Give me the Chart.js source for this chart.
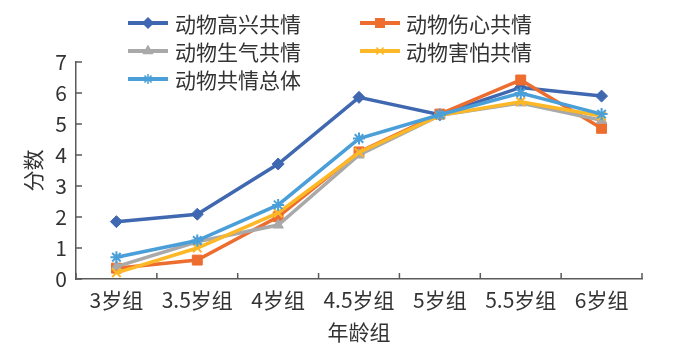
<!DOCTYPE html>
<html>
<head>
<meta charset="utf-8">
<script src="https://cdn.jsdelivr.net/npm/chart.js@4/dist/chart.umd.min.js"></script>
<style>
  html, body { margin: 0; padding: 0; background: #fff; }
  #wrap { width: 700px; height: 349px; }
</style>
</head>
<body>
<div id="wrap"><canvas id="c" width="700" height="349"></canvas></div>
<script>
// age groups along the x axis
var ageGroups = ["3岁组", "3.5岁组", "4岁组", "4.5岁组", "5岁组", "5.5岁组", "6岁组"];

// mean scores per age group
var happyScores = [1.85, 2.09, 3.71, 5.86, 5.30, 6.18, 5.90];
var sadScores   = [0.35, 0.61, 2.01, 4.10, 5.32, 6.42, 4.86];
var angryScores = [0.40, 1.20, 1.74, 4.00, 5.28, 5.68, 5.12];
var fearScores  = [0.20, 1.00, 2.13, 4.08, 5.28, 5.72, 5.26];
var totalScores = [0.70, 1.24, 2.39, 4.53, 5.30, 6.00, 5.32];

var seriesNames = ["动物高兴共情", "动物伤心共情", "动物生气共情", "动物害怕共情", "动物共情总体"];
var yTicks = [0, 1, 2, 3, 4, 5, 6, 7];

var FONT = "'Noto Sans CJK SC', 'Noto Sans', sans-serif";
var TEXT = "#333333";
var AXIS = "#5a5a5a";

function series(label, data, color, style, radius, idx) {
    return {
        label: label,
        data: data,
        borderColor: color,
        backgroundColor: color,
        pointBackgroundColor: color,
        pointBorderColor: color,
        borderWidth: 3.5,
        pointStyle: style,
        pointRadius: radius,
        pointBorderWidth: style == "crossRot" || style == "star" ? 2 : 1,
        tension: 0,
        order: 4 - idx   // later series drawn on top
    };
}

// little tick marks pointing into the plot
var innerTicks = {
    id: "innerTicks",
    beforeDatasetsDraw: function(chart) {
        var ctx = chart.ctx, a = chart.chartArea;
        var ys = chart.scales.y;
        ctx.save();
        ctx.strokeStyle = AXIS;
        ctx.lineWidth = 1.5;
        ctx.beginPath();
        var n = ageGroups.length;
        for (var i = 0; i <= n; i++) {
            var x = a.left + (a.right - a.left) * i / n;
            ctx.moveTo(x, a.bottom);
            ctx.lineTo(x, a.bottom - 6);
        }
        ys.ticks.forEach(function(t) {
            var y = ys.getPixelForValue(t.value);
            ctx.moveTo(a.left, y);
            ctx.lineTo(a.left + 6, y);
        });
        ctx.stroke();
        ctx.restore();
    }
};

// two-column legend laid over the top of the plot
var gridLegend = {
    id: "gridLegend",
    afterDraw: function(chart) {
        var ctx = chart.ctx;
        var colX = [128, 360];
        var textX = [175, 406];
        var rowY = [23, 51, 79];
        ctx.save();
        ctx.font = "21px " + FONT;
        ctx.textBaseline = "middle";
        ctx.textAlign = "left";
        chart.data.datasets.forEach(function(ds, i) {
            var c = i % 2, r = Math.floor(i / 2);
            var y = rowY[r];
            ctx.strokeStyle = ds.borderColor;
            ctx.fillStyle = ds.borderColor;
            ctx.lineWidth = 4;
            ctx.beginPath();
            ctx.moveTo(colX[c], y);
            ctx.lineTo(colX[c] + 40, y);
            ctx.stroke();
            ctx.lineWidth = 1.5;
            Chart.helpers.drawPoint(ctx, {
                pointStyle: ds.pointStyle,
                radius: ds.pointRadius - 1,
                borderWidth: 1.5,
                rotation: 0
            }, colX[c] + 20, y);
            ctx.fillStyle = TEXT;
            ctx.fillText(ds.label, textX[c], y + 1);
        });
        ctx.restore();
    }
};

new Chart(document.getElementById("c"), {
    type: "line",
    data: {
        labels: ageGroups,
        datasets: [
            series(seriesNames[0], happyScores, "#3f68b1", "rectRot", 6, 0),
            series(seriesNames[1], sadScores,   "#ed6d2f", "rect",    7, 1),
            series(seriesNames[2], angryScores, "#a9a9a9", "triangle",6, 2),
            series(seriesNames[3], fearScores,  "#fdb827", "crossRot",6, 3),
            series(seriesNames[4], totalScores, "#4a9fd8", "star",    6, 4)
        ]
    },
    options: {
        responsive: false,
        animation: false,
        layout: { padding: { top: 62, right: 58, left: 0, bottom: 0 } },
        plugins: { legend: { display: false }, tooltip: { enabled: false } },
        scales: {
            x: {
                offset: true,
                grid: { display: false, drawTicks: false },
                border: { display: true, color: AXIS, width: 1.5 },
                ticks: { color: TEXT, font: { family: FONT, size: 21 }, padding: 8, maxRotation: 0, autoSkip: false },
                title: { display: true, text: "年龄组", color: TEXT, font: { family: FONT, size: 21 }, padding: { top: 0, bottom: 4 } },
                afterFit: function(s) { s.height = 70; }
            },
            y: {
                min: 0,
                max: 7,
                afterBuildTicks: function(s) { s.ticks = yTicks.map(function(v) { return { value: v }; }); },
                grid: { display: false, drawTicks: false },
                border: { display: true, color: AXIS, width: 1.5 },
                ticks: { color: TEXT, font: { family: FONT, size: 21 }, padding: 9 },
                title: { display: true, text: "分数", color: TEXT, font: { family: FONT, size: 21 }, padding: { top: 20, bottom: 0 } },
                afterFit: function(s) { s.width = 76; }
            }
        }
    },
    plugins: [innerTicks, gridLegend]
});
</script>
</body>
</html>
